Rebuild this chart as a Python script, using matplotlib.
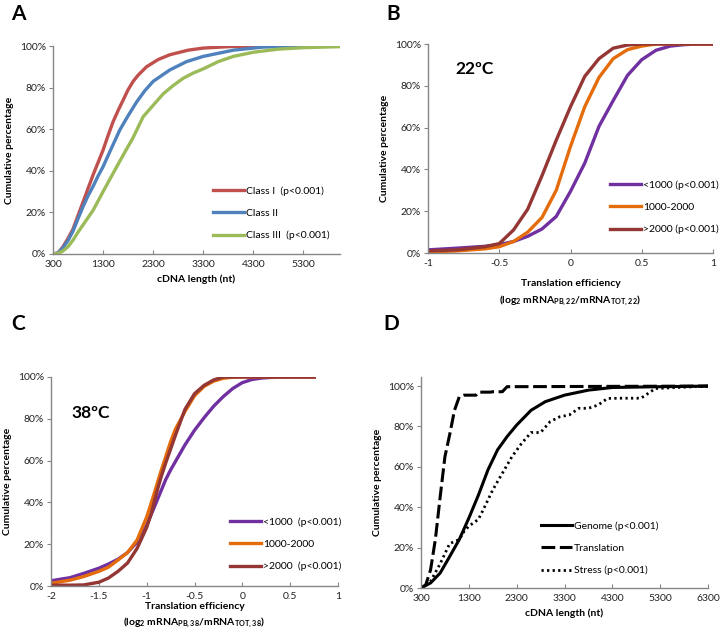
"""
Cumulative distributions of cDNA length and translation efficiency (panels A-D).
"""

import numpy as np
import matplotlib.pyplot as plt
from matplotlib.ticker import PercentFormatter

plt.rcParams["font.family"] = ["Lato", "DejaVu Sans"]
plt.rcParams["mathtext.fontset"] = "custom"
plt.rcParams["mathtext.rm"] = "Lato:bold"
plt.rcParams["mathtext.bf"] = "Lato:bold"
plt.rcParams["mathtext.default"] = "bf"

# ---- Panel A: cDNA length by class ----
a_x_class1 = [300, 400, 500, 600, 700, 800, 900, 1000, 1100, 1200, 1300, 1400, 1500, 1600, 1700,
              1800, 1900, 2000, 2167, 2400, 2633, 3000, 3300, 3900, 6030]
a_y_class1 = [0, 0.5, 3.5, 7.5, 12, 18.5, 25, 31.5, 38, 44, 50, 57, 63.6, 69, 74,
              79, 83, 86, 90, 93.5, 95.8, 98, 99, 99.8, 100]
a_x_class2 = [300, 400, 500, 600, 700, 800, 900, 1000, 1100, 1200, 1300, 1450, 1633, 1800, 1967,
              2133, 2300, 2633, 2967, 3300, 3900, 4500, 6030]
a_y_class2 = [0, 0.5, 3, 6.5, 11, 17, 22.8, 28, 32.5, 37.5, 42, 50, 59.6, 66.5, 73,
              78.5, 83, 88.5, 92.5, 95, 98, 99.5, 100]
a_x_class3 = [300, 400, 500, 600, 700, 800, 900, 1000, 1100, 1300, 1500, 1700, 1900, 2100, 2300,
              2500, 2700, 2900, 3100, 3300, 3600, 3900, 4300, 4800, 5300, 6030]
a_y_class3 = [0, 0.3, 1.5, 3.5, 6.7, 10.5, 14, 17.5, 21, 30, 38.8, 47.5, 56, 66, 71.5,
              77, 81, 84.5, 87, 89, 92.5, 95, 97, 98.5, 99.2, 99.7]

# ---- Panel B: translation efficiency at 22ºC ----
b_x = [-1, -0.8, -0.6, -0.5, -0.4, -0.3, -0.2, -0.1, 0, 0.1, 0.2, 0.3, 0.4, 0.5, 0.6, 0.7, 0.8, 0.9, 1]
b_lt1000 = [1.5, 2.3, 3.2, 4, 5.5, 8, 11.5, 17.5, 29.5, 43, 60.6, 73, 85, 92.5, 97, 99, 99.7, 100, 100]
b_1000_2000 = [0.5, 1, 2, 3, 5.5, 10, 17, 30, 51, 70, 84, 93, 97.3, 99, 100, 100, 100, 100, 100]
b_gt2000 = [1, 1.5, 3, 4.5, 11, 21, 37, 54, 70, 84.5, 93, 98, 99.5, 100, 100, 100, 100, 100, 100]

# ---- Panel C: translation efficiency at 38ºC ----
c_x = [-2, -1.8, -1.66, -1.5, -1.4, -1.3, -1.2, -1.1, -1.0, -0.95, -0.9, -0.85, -0.8, -0.75,
       -0.7, -0.6, -0.5, -0.4, -0.3, -0.2, -0.1, 0, 0.1, 0.2, 0.3, 0.5, 0.75]
c_lt1000 = [2.5, 4, 6, 8.5, 10.5, 12.8, 16, 21, 29, 34.5, 40, 45.5, 51, 55.5,
            59.5, 67.5, 74.5, 80.5, 86, 90.6, 94.5, 97.3, 98.8, 99.5, 99.8, 100, 100]
c_1000_2000 = [1.3, 2.8, 4.5, 7, 9, 12.4, 16, 22, 33, 40, 47.5, 55, 62, 69,
               75, 83.5, 91, 95.5, 98, 99.4, 99.9, 100, 100, 100, 100, 100, 100]
c_gt2000 = [0.4, 0.4, 0.5, 1.8, 3.8, 7, 11, 18, 28, 35, 44, 52, 59, 65.5,
            72, 84.5, 92, 96, 98.6, 100, 100, 100, 100, 100, 100, 100, 100]

# ---- Panel D: cDNA length by gene set ----
d_x_genome = [300, 500, 700, 900, 1100, 1300, 1500, 1700, 1900, 2100, 2300, 2600, 2900, 3300, 3800, 4300, 5300, 6300]
d_y_genome = [0, 2.5, 7.4, 15.6, 24, 34.6, 46, 58.5, 68.4, 75, 80.7, 88, 92.3, 95.5, 98, 99.3, 99.7, 100]
d_x_transl = [300, 400, 500, 600, 700, 800, 900, 1000, 1100, 1200, 1450, 1500, 1750, 1800, 2000, 2100, 6300]
d_y_transl = [0, 1.6, 9, 24, 45, 65, 76, 88, 94.7, 95.5, 95.5, 97, 97, 97.2, 97.2, 99.7, 100]
d_x_stress = [300, 500, 700, 900, 1100, 1200, 1300, 1500, 1600, 1800, 2000, 2200, 2400, 2600, 2800, 3000,
              3200, 3400, 3600, 3800, 4000, 4200, 4500, 4900, 5100, 5200, 6300]
d_y_stress = [0, 3.3, 12, 22, 24, 28, 30.6, 34, 38.7, 48.6, 56.8, 65, 71.5, 77, 77, 82.4,
              84.8, 85.7, 89, 89, 90.6, 93.9, 94, 94, 97.2, 98.8, 100]

RED = "#c0504d"
BLUE = "#4f81bd"
GREEN = "#9bbb59"
PURPLE = "#7030a0"
ORANGE = "#e46c0a"
BROWN = "#943634"
SPINE = "#868686"

W, H = 722, 637


def fx(px):
    return px / W


def fy(py):
    return 1 - py / H


def style_axes(ax):
    for side in ("top", "right"):
        ax.spines[side].set_visible(False)
    for side in ("left", "bottom"):
        ax.spines[side].set_color(SPINE)
        ax.spines[side].set_linewidth(1.0)
    ax.tick_params(axis="x", direction="in", length=3, color=SPINE, labelsize=7.5, pad=4, labelcolor="#222222")
    ax.tick_params(axis="y", direction="out", length=3, color=SPINE, labelsize=7.5, pad=2, labelcolor="#222222")
    ax.yaxis.set_major_formatter(PercentFormatter(100, decimals=0))
    ax.set_ylabel("Cumulative percentage", fontsize=7.5, fontweight="bold", labelpad=4)


def add_legend(ax, left_px, top_px):
    leg = ax.legend(loc="upper left", bbox_to_anchor=(fx(left_px), fy(top_px)),
                    bbox_transform=ax.figure.transFigure, frameon=False, fontsize=7.5,
                    handlelength=3.0, handletextpad=0.15, labelspacing=1.25,
                    borderpad=0, borderaxespad=0)
    return leg


def main():
    fig = plt.figure(figsize=(7.22, 6.37), dpi=100)

    # Panel A
    axA = fig.add_axes([fx(53), fy(254), fx(340 - 53), (254 - 46) / H])
    axA.plot(a_x_class1, a_y_class1, color=RED, lw=2.4, label="Class I  (p<0.001)")
    axA.plot(a_x_class2, a_y_class2, color=BLUE, lw=2.4, label="Class II")
    axA.plot(a_x_class3, a_y_class3, color=GREEN, lw=2.4, label="Class III  (p<0.001)")
    axA.set_xlim(300, 6030)
    axA.set_ylim(0, 100)
    axA.set_xticks([300, 1300, 2300, 3300, 4300, 5300])
    axA.set_yticks(range(0, 101, 20))
    style_axes(axA)
    axA.set_xlabel("cDNA length (nt)", fontsize=7.5, fontweight="bold", labelpad=4)
    add_legend(axA, 213, 186)

    # Panel B
    axB = fig.add_axes([fx(428), fy(253), fx(713 - 428), (253 - 44) / H])
    axB.plot(b_x, b_lt1000, color=PURPLE, lw=2.4, label="<1000 (p<0.001)")
    axB.plot(b_x, b_1000_2000, color=ORANGE, lw=2.4, label="1000-2000")
    axB.plot(b_x, b_gt2000, color=BROWN, lw=2.4, label=">2000 (p<0.001)")
    axB.set_xlim(-1, 1)
    axB.set_ylim(0, 100)
    axB.set_xticks([-1, -0.5, 0, 0.5, 1])
    axB.set_xticklabels(["-1", "-0.5", "0", "0.5", "1"])
    axB.set_yticks(range(0, 101, 20))
    style_axes(axB)
    axB.set_xlabel("Translation efficiency\n"
                   r"(log$_2$ mRNA$_{\mathregular{PB,22}}$/mRNA$_{\mathregular{TOT,22}}$)",
                   fontsize=7.5, fontweight="bold", labelpad=8, linespacing=1.6)
    axB.text(0.095, 0.88, "22ºC", transform=axB.transAxes, fontsize=12.5,
             fontweight="bold", va="center", ha="left")
    add_legend(axB, 610, 180)

    # Panel C
    axC = fig.add_axes([fx(51), fy(586), fx(338 - 51), (586 - 377) / H])
    axC.plot(c_x, c_lt1000, color=PURPLE, lw=2.4, label="<1000  (p<0.001)")
    axC.plot(c_x, c_1000_2000, color=ORANGE, lw=2.4, label="1000-2000")
    axC.plot(c_x, c_gt2000, color=BROWN, lw=2.4, label=">2000  (p<0.001)")
    axC.set_xlim(-2, 1)
    axC.set_ylim(0, 100)
    axC.set_xticks([-2, -1.5, -1, -0.5, 0, 0.5, 1])
    axC.set_xticklabels(["-2", "-1.5", "-1", "-0.5", "0", "0.5", "1"])
    axC.set_yticks(range(0, 101, 20))
    style_axes(axC)
    axC.set_xlabel("Translation efficiency\n"
                   r"(log$_2$ mRNA$_{\mathregular{PB,38}}$/mRNA$_{\mathregular{TOT,38}}$)",
                   fontsize=7.5, fontweight="bold", labelpad=1, linespacing=1.5)
    axC.text(0.07, 0.83, "38ºC", transform=axC.transAxes, fontsize=12.5,
             fontweight="bold", va="center", ha="left")
    add_legend(axC, 230, 517)

    # Panel D
    axD = fig.add_axes([fx(421), fy(588), fx(708 - 421), (588 - 377) / H])
    axD.plot(d_x_genome, d_y_genome, color="black", lw=2.2, label="Genome (p<0.001)")
    axD.plot(d_x_transl, d_y_transl, color="black", lw=2.2, ls=(0, (4.5, 1.5)), label="Translation")
    axD.plot(d_x_stress, d_y_stress, color="black", lw=2.0, ls=(0, (0.8, 1.2)), label="Stress (p<0.001)")
    axD.set_xlim(300, 6300)
    axD.set_ylim(0, 104.5)
    axD.set_xticks([300, 1300, 2300, 3300, 4300, 5300, 6300])
    axD.set_yticks(range(0, 101, 20))
    style_axes(axD)
    axD.set_xlabel("cDNA length (nt)", fontsize=7.5, fontweight="bold", labelpad=4)
    add_legend(axD, 541, 521)

    # Panel letters
    for letter, px, py in [("A", 11, 4), ("B", 386, 4), ("C", 11, 314), ("D", 383, 314)]:
        fig.text(fx(px), fy(py), letter, fontsize=15, fontweight="bold", va="top", ha="left")

    fig.savefig("out.png", dpi=100)


if __name__ == "__main__":
    main()
